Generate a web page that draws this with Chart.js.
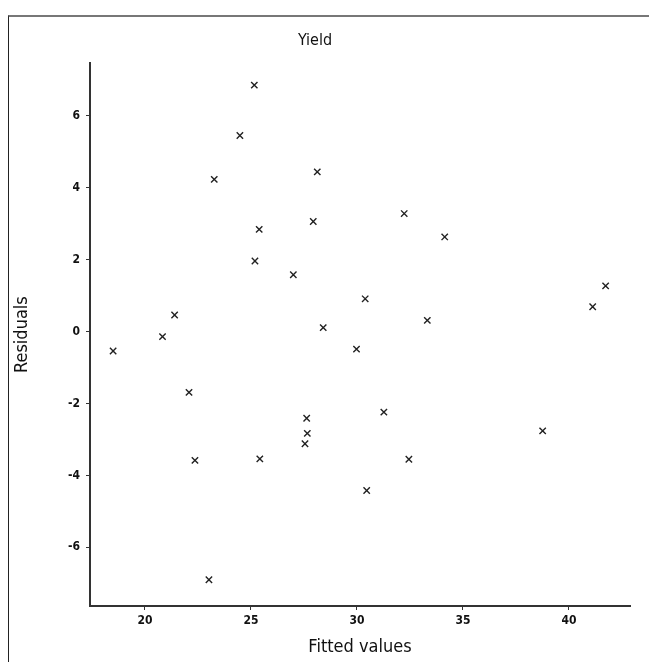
<!DOCTYPE html>
<html>
<head>
<meta charset="utf-8">
<script src="https://cdn.jsdelivr.net/npm/chart.js@4.4.0/dist/chart.umd.min.js"></script>
<style>
  html, body { margin: 0; padding: 0; background: #fff; overflow: hidden; }
  #frame { position: absolute; left: 8px; top: 15px; width: 700px; height: 700px;
           border-left: 1px solid #222; border-top: 2px solid #777; }
  #wrap { position: absolute; left: 0; top: 0; width: 649px; height: 662px; }
</style>
</head>
<body>
<div id="frame"></div>
<div id="wrap"><canvas id="chart"></canvas></div>
<script>
// fitted values (x) and residuals (y)
const fitted = [18.50, 20.83, 21.40, 22.08, 22.36, 23.02, 23.27, 24.48, 25.16, 25.19,
                25.39, 25.42, 27.00, 27.94, 28.13, 28.41, 27.63, 27.66, 27.55, 29.98,
                30.39, 30.46, 31.27, 32.23, 32.45, 33.32, 34.14, 38.76, 41.12, 41.73];
const residuals = [-0.54, -0.14, 0.46, -1.69, -3.58, -6.90, 4.23, 5.45, 6.85, 1.96,
                   2.84, -3.54, 1.58, 3.06, 4.44, 0.11, -2.41, -2.83, -3.12, -0.49,
                   0.91, -4.42, -2.24, 3.28, -3.55, 0.31, 2.63, -2.76, 0.69, 1.27];
const xTicks = [20, 25, 30, 35, 40];
const yTicks = [-6, -4, -2, 0, 2, 4, 6];

const narrow = "'DejaVu Sans Condensed', 'Liberation Sans Narrow', sans-serif";

new Chart(document.querySelector("#chart"), {
    type: "scatter",
    data: {
        datasets: [{
            label: "Residuals",
            data: fitted.map((x, i) => ({ x, y: residuals[i] })),
            pointStyle: "crossRot",
            radius: 4.5,
            borderColor: "#222",
            borderWidth: 1.4
        }]
    },
    options: {
        responsive: true,
        maintainAspectRatio: false,
        animation: false,
        layout: { padding: { left: 0, right: 19, top: 0, bottom: 0 } },
        plugins: {
            legend: { display: false },
            tooltip: { enabled: false },
            title: {
                display: true,
                text: "Yield",
                color: "#111",
                font: { family: narrow, size: 16, weight: "normal" },
                padding: { top: 31, bottom: 13 }
            }
        },
        scales: {
            x: {
                type: "linear",
                min: 17.41,
                max: 42.88,
                afterBuildTicks: s => { s.ticks = xTicks.map(v => ({ value: v })); },
                afterFit: s => { s.height = 56; },
                border: { display: true, color: "#333", width: 2 },
                grid: { display: true, drawOnChartArea: false, drawTicks: true, tickLength: 4, color: "#333" },
                ticks: { color: "#111", font: { family: narrow, size: 12, weight: "bold" }, padding: 4, maxRotation: 0 },
                title: {
                    display: true,
                    text: "Fitted values",
                    color: "#111",
                    font: { family: narrow, size: 18 },
                    padding: { top: 0, bottom: 4 }
                }
            },
            y: {
                type: "linear",
                min: -7.63,
                max: 7.46,
                afterBuildTicks: s => { s.ticks = yTicks.map(v => ({ value: v })); },
                afterFit: s => { s.width = 90; },
                border: { display: true, color: "#333", width: 2 },
                grid: { display: true, drawOnChartArea: false, drawTicks: true, tickLength: 4, color: "#333" },
                ticks: { color: "#111", font: { family: narrow, size: 12, weight: "bold" }, padding: 6 },
                title: {
                    display: true,
                    text: "Residuals",
                    color: "#111",
                    font: { family: narrow, size: 18 },
                    padding: { top: 12, bottom: 0 }
                }
            }
        }
    }
});
</script>
</body>
</html>
